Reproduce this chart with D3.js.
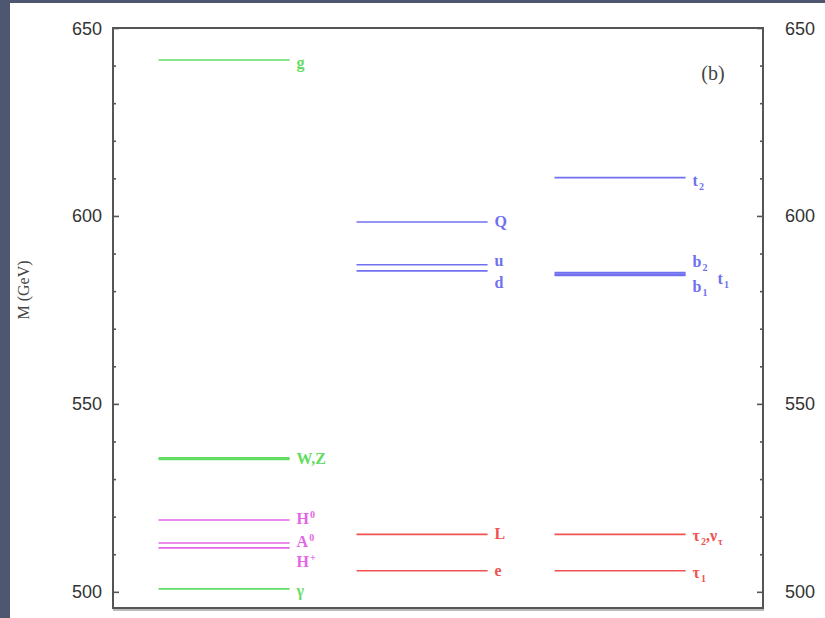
<!DOCTYPE html>
<html>
<head>
<meta charset="utf-8">
<script src="https://cdn.jsdelivr.net/npm/d3@7"></script>
<style>
  html, body { margin: 0; padding: 0; background: #ffffff; }
  svg { display: block; }
</style>
</head>
<body>
<svg id="chart" width="825" height="618"></svg>
<script>
// KK mass spectrum, three groups of levels
const groups = [0, 1, 2];

// column 0: gauge bosons and Higgs states
const bosonNames  = ["g", "W", "Z", "H0", "A0", "Hp", "gamma"];
const bosonMasses = [641.5, 535.3, 535.6, 519.1, 513.0, 511.7, 500.8];
const bosonKinds  = ["gauge", "gauge", "gauge", "higgs", "higgs", "higgs", "gauge"];

// column 1: first two generations
const lightNames  = ["Q", "u", "d", "L", "e"];
const lightMasses = [598.4, 587.0, 585.4, 515.3, 505.6];
const lightKinds  = ["quark", "quark", "quark", "lepton", "lepton"];

// column 2: third generation
const heavyNames  = ["t2", "b2", "t1", "b1", "tau2", "tau1"];
const heavyMasses = [610.2, 584.9, 584.5, 584.2, 515.3, 505.6];
const heavyKinds  = ["quark", "quark", "quark", "quark", "lepton", "lepton"];

const yTicksMajor = [500, 550, 600, 650];
const yTicksMinor = d3.range(500, 651, 10);

const colors = { gauge: "#62dc62", higgs: "#e466e6", quark: "#7070f0", lepton: "#f05252" };

const levels = [];
[[bosonNames, bosonMasses, bosonKinds], [lightNames, lightMasses, lightKinds], [heavyNames, heavyMasses, heavyKinds]]
  .forEach(([names, masses, kinds], gi) => {
    names.forEach((n, i) => levels.push({ group: groups[gi], name: n, mass: masses[i], kind: kinds[i] }));
  });

// line widths for overlapping pairs
const widthOf = { W: 2, Z: 2, b1: 1.8, t1: 1.8, b2: 1.8 };

// label markup: [text pieces], label nudges in px
const labelSpec = {
  g:     { parts: [["g", ""]], dy: 3 },
  W:     { parts: [["W,Z", ""]], dy: 0 },
  H0:    { parts: [["H", ""], ["0", "sup"]], dy: -1 },
  A0:    { parts: [["A", ""], ["0", "sup"]], dy: -1 },
  Hp:    { parts: [["H", ""], ["+", "sup"]], dy: 14 },
  gamma: { parts: [["γ", ""]], dy: 2 },
  Q:     { parts: [["Q", ""]], dy: 0 },
  u:     { parts: [["u", ""]], dy: -4 },
  d:     { parts: [["d", ""]], dy: 12 },
  L:     { parts: [["L", ""]], dy: 0 },
  e:     { parts: [["e", ""]], dy: 0 },
  t2:    { parts: [["t", ""], ["2", "sub"]], dy: 3 },
  b2:    { parts: [["b", ""], ["2", "sub"]], dy: -11 },
  t1:    { parts: [["t", ""], ["1", "sub"]], dy: 5, dx: 25 },
  b1:    { parts: [["b", ""], ["1", "sub"]], dy: 12 },
  tau2:  { parts: [["τ", ""], ["2", "sub"], [",ν", ""], ["τ", "sub"]], dy: 2 },
  tau1:  { parts: [["τ", ""], ["1", "sub"]], dy: 2 }
};

const svg = d3.select("#chart");
const W = 825, H = 618;

// frame strips
svg.append("rect").attr("x", 0).attr("y", 0).attr("width", W).attr("height", H).attr("fill", "#ffffff");
svg.append("rect").attr("x", 0).attr("y", 0).attr("width", 10).attr("height", H).attr("fill", "#4f5670");
svg.append("rect").attr("x", 0).attr("y", 0).attr("width", W).attr("height", 3).attr("fill", "#4f5670");

const box = { left: 113, right: 763, top: 28, bottom: 608 };

const y = d3.scaleLinear().domain([495.7, 650]).range([box.bottom, box.top]);
const x = d3.scaleLinear().domain([-0.561, 2.722]).range([box.left, box.right]);
const halfW = 0.331;

// level lines
const lines = svg.append("g");
lines.selectAll("line").data(levels).join("line")
  .attr("x1", d => x(d.group - halfW))
  .attr("x2", d => x(d.group + halfW))
  .attr("y1", d => y(d.mass))
  .attr("y2", d => y(d.mass))
  .attr("stroke", d => colors[d.kind])
  .attr("stroke-width", d => widthOf[d.name] || 1.6);

// level labels
const labels = svg.append("g")
  .attr("font-family", "'Liberation Serif', 'DejaVu Serif', serif")
  .attr("font-weight", "bold")
  .attr("font-size", 16);
levels.filter(d => labelSpec[d.name] && d.name !== "Z").forEach(d => {
  const s = labelSpec[d.name];
  const t = labels.append("text")
    .attr("x", x(d.group + halfW) + 7 + (s.dx || 0))
    .attr("y", y(d.mass) + 5 + s.dy)
    .attr("fill", colors[d.kind]);
  let shift = 0;
  s.parts.forEach(([txt, kind]) => {
    const sp = t.append("tspan").text(txt);
    const want = kind === "sup" ? -6 : kind === "sub" ? 4 : 0;
    if (kind) sp.attr("font-size", 10).attr("dx", 1);
    sp.attr("dy", want - shift);
    shift = want;
  });
});

// axes box
const axisColor = "#555555";
const ax = svg.append("g");
// bottom shadow
ax.append("line").attr("x1", box.left).attr("x2", box.right + 1)
  .attr("y1", box.bottom + 2).attr("y2", box.bottom + 2)
  .attr("stroke", "#bbbbbb").attr("stroke-width", 2);
ax.append("rect")
  .attr("x", box.left).attr("y", box.top)
  .attr("width", box.right - box.left).attr("height", box.bottom - box.top)
  .attr("fill", "none").attr("stroke", axisColor).attr("stroke-width", 2);

const minorVals = yTicksMinor.filter(v => !yTicksMajor.includes(v));

// ticks on both vertical sides, pointing inward
function drawTicks(axisGen, xPos) {
  const g = svg.append("g").attr("transform", `translate(${xPos},0)`).call(axisGen);
  g.select(".domain").remove();
  g.selectAll("line").attr("stroke", axisColor).attr("stroke-width", 1.6);
}
drawTicks(d3.axisRight(y).tickValues(yTicksMajor).tickSize(6).tickFormat(""), box.left);
drawTicks(d3.axisRight(y).tickValues(minorVals).tickSize(3).tickFormat(""), box.left);
drawTicks(d3.axisLeft(y).tickValues(yTicksMajor).tickSize(6).tickFormat(""), box.right);
drawTicks(d3.axisLeft(y).tickValues(minorVals).tickSize(3).tickFormat(""), box.right);

const tickFont = "'Liberation Sans', Arial, sans-serif";
svg.append("g").selectAll("text").data(yTicksMajor).join("text")
  .attr("x", box.left - 11).attr("y", d => y(d) + 6.5)
  .attr("text-anchor", "end")
  .attr("font-family", tickFont).attr("font-size", 18)
  .attr("fill", "#333333")
  .text(d => d);
svg.append("g").selectAll("text").data(yTicksMajor).join("text")
  .attr("x", box.right + 22).attr("y", d => y(d) + 6.5)
  .attr("text-anchor", "start")
  .attr("font-family", tickFont).attr("font-size", 18)
  .attr("fill", "#333333")
  .text(d => d);

// axis title
svg.append("text")
  .attr("transform", "translate(29, 290) rotate(-90)")
  .attr("text-anchor", "middle")
  .attr("font-family", "'Liberation Serif', 'DejaVu Serif', serif")
  .attr("font-size", 16)
  .attr("fill", "#444444")
  .text("M (GeV)");

// panel tag
svg.append("text")
  .attr("x", 713).attr("y", 80)
  .attr("text-anchor", "middle")
  .attr("font-family", "'Liberation Serif', 'DejaVu Serif', serif")
  .attr("font-size", 20)
  .attr("fill", "#444444")
  .text("(b)");
</script>
</body>
</html>
